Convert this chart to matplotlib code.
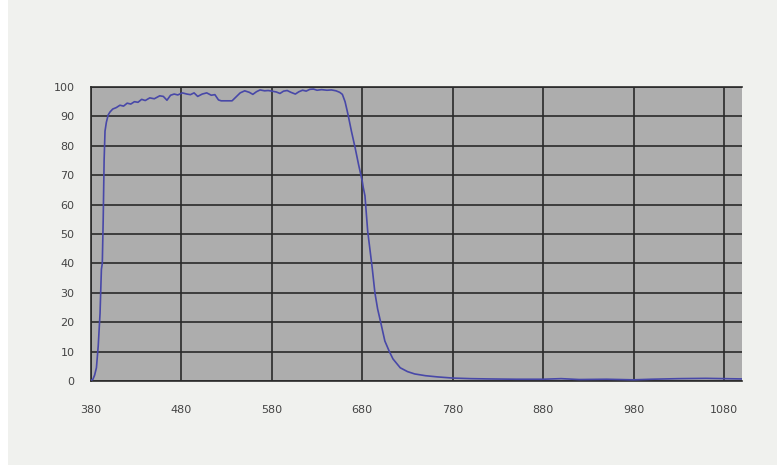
import matplotlib
matplotlib.use("Agg")
import matplotlib.pyplot as plt
from matplotlib.patches import Rectangle

# 透过率曲线 (波长 nm, 透过率 %)
wavelength = [380, 382, 384, 386, 388, 390, 391.5, 392.5, 393.5, 394.5, 395.5, 397, 399,
              401, 404, 408, 412, 416, 420, 424, 428, 432, 436, 440, 445, 450, 456, 460,
              464, 468, 472, 476, 481, 486, 490, 494, 498, 503, 508, 513, 517, 521, 524,
              530, 536, 540, 545, 550, 555, 559, 563, 567, 572, 576, 580, 585, 589, 593,
              597, 601, 606, 610, 614, 618, 622, 626, 630, 635, 641, 646, 651, 655, 658,
              661, 664, 668, 672, 676, 680, 681, 683, 686, 691, 694, 697, 700, 705, 710, 714,
              722, 730, 738, 750, 763, 780, 800, 820, 850, 880, 900, 920, 950, 980, 1000,
              1030, 1060, 1080, 1100]
transmission = [0.3, 0.5, 2, 4.5, 12, 23, 38, 40, 55, 75, 85, 88, 90.5,
                91.5, 92.5, 93, 93.8, 93.5, 94.5, 94.2, 95, 94.8, 95.8, 95.4, 96.3, 96, 97, 96.8,
                95.5, 97.2, 97.6, 97.3, 98, 97.6, 97.4, 98, 96.8, 97.6, 98, 97.2, 97.4, 95.6, 95.3,
                95.3, 95.3, 96.5, 98, 98.7, 98.2, 97.5, 98.4, 99, 98.7, 98.8, 98.6, 98.3, 97.8, 98.6,
                98.8, 98.2, 97.6, 98.4, 98.9, 98.6, 99.2, 99.3, 98.9, 99.1, 98.9, 99, 98.7, 98.2, 97.5,
                95, 91, 85, 79.5, 73.5, 68, 66, 63, 51, 38.5, 30, 24.5, 20.5, 13.6, 10, 7.5,
                4.5, 3.2, 2.4, 1.8, 1.4, 1.0, 0.8, 0.7, 0.6, 0.6, 0.8, 0.5, 0.6, 0.4, 0.6,
                0.8, 0.9, 0.8, 0.7]

x_ticks = [380, 480, 580, 680, 780, 880, 980, 1080]
y_ticks = list(range(0, 101, 10))

fig = plt.figure(figsize=(7.77, 4.65), dpi=100, facecolor='#f0f1ee')
# 左侧白边
fig.patches.append(Rectangle((0, 0), 8 / 777, 1, transform=fig.transFigure,
                             facecolor='white', edgecolor='none', zorder=-1))

ax = fig.add_axes([91 / 777, 1 - 381 / 465, 651 / 777, 294 / 465])
ax.set_facecolor('#adadad')

ax.plot(wavelength, transmission, color='#4848a8', linewidth=1.2, zorder=3)

ax.set_xlim(380, 1100)
ax.set_ylim(0, 100)
ax.set_xticks(x_ticks)
ax.set_yticks(y_ticks)
ax.set_xticklabels([str(v) for v in x_ticks])
ax.set_yticklabels([str(v) for v in y_ticks])

ax.grid(True, color='#2a2a2a', linewidth=1.2, zorder=1)
ax.set_axisbelow(True)
ax.tick_params(axis='both', length=0, labelsize=8, labelcolor='#444444')
ax.tick_params(axis='x', pad=17)
ax.tick_params(axis='y', pad=12)

for side in ['left', 'bottom', 'top']:
    ax.spines[side].set_color('#2a2a2a')
    ax.spines[side].set_linewidth(1.2)
ax.spines['right'].set_visible(False)

fig.savefig('out.png', dpi=100, facecolor=fig.get_facecolor())
